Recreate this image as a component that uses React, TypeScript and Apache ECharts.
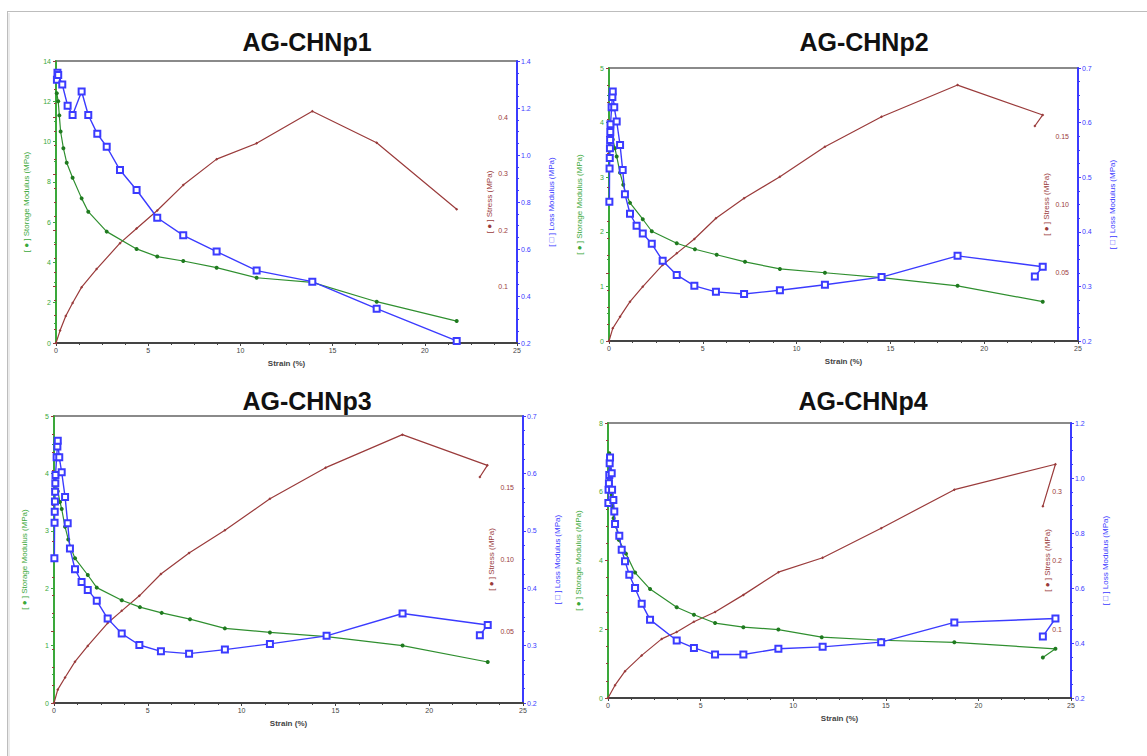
import React, { useEffect, useRef } from "react";
import * as echarts from "echarts";

// ---------- titles ----------
const titles = ["AG-CHNp1", "AG-CHNp2", "AG-CHNp3", "AG-CHNp4"];
const xName = "Strain (%)";
const storageName = "[ ● ] Storage Modulus (MPa)";
const stressName = "[ ● ] Stress (MPa)";
const lossName = "[ □ ] Loss Modulus (MPa)";

// ---------- AG-CHNp1 ----------
const p1StorageStrain = [0.04, 0.12, 0.18, 0.25, 0.4, 0.58, 0.9, 1.39, 1.75, 2.75, 4.37, 5.49, 6.9, 8.71, 10.88, 13.9, 17.39, 21.73];
const p1Storage = [12.4, 12.0, 11.3, 10.5, 9.67, 8.95, 8.2, 7.18, 6.52, 5.53, 4.67, 4.29, 4.07, 3.74, 3.24, 3.01, 2.05, 1.09];
const p1LossStrain = [0.05, 0.08, 0.12, 0.34, 0.63, 0.9, 1.39, 1.75, 2.24, 2.75, 3.47, 4.37, 5.49, 6.9, 8.71, 10.88, 13.9, 17.39, 21.73];
const p1Loss = [1.32, 1.35, 1.34, 1.3, 1.21, 1.17, 1.27, 1.17, 1.09, 1.035, 0.936, 0.851, 0.733, 0.658, 0.589, 0.508, 0.461, 0.346, 0.209];
const p1StressStrain = [0, 0.22, 0.53, 0.9, 1.39, 2.2, 3.47, 4.37, 5.49, 6.9, 8.71, 10.88, 13.9, 17.39, 21.73];
const p1Stress = [0, 0.022, 0.048, 0.071, 0.099, 0.131, 0.177, 0.203, 0.235, 0.28, 0.326, 0.354, 0.411, 0.355, 0.237];

// ---------- AG-CHNp2 ----------
const p2StorageStrain = [0.09, 0.12, 0.2, 0.32, 0.41, 0.59, 0.76, 0.9, 1.12, 1.8, 2.28, 3.61, 4.58, 5.74, 7.25, 9.11, 11.51, 14.53, 18.58, 23.12];
const p2Storage = [3.96, 3.8, 3.69, 3.53, 3.38, 3.08, 2.86, 2.7, 2.53, 2.23, 2.01, 1.79, 1.68, 1.58, 1.45, 1.32, 1.25, 1.16, 1.01, 0.72];
const p2LossStrain = [0.02, 0.03, 0.04, 0.05, 0.06, 0.07, 0.08, 0.14, 0.18, 0.2, 0.28, 0.41, 0.59, 0.73, 0.85, 1.12, 1.47, 1.8, 2.28, 2.86, 3.61, 4.55, 5.7, 7.2, 9.11, 11.51, 14.53, 18.58, 23.12, 22.7];
const p2Loss = [0.455, 0.516, 0.535, 0.553, 0.568, 0.583, 0.597, 0.628, 0.647, 0.657, 0.628, 0.602, 0.559, 0.513, 0.469, 0.433, 0.411, 0.397, 0.378, 0.347, 0.321, 0.301, 0.29, 0.286, 0.293, 0.303, 0.317, 0.356, 0.336, 0.318];
const p2StressStrain = [0, 0.2, 0.59, 1.12, 1.8, 2.86, 3.61, 4.55, 5.7, 7.2, 9.11, 11.51, 14.53, 18.58, 23.12, 22.7];
const p2Stress = [0, 0.0093, 0.0178, 0.0288, 0.0398, 0.0557, 0.0642, 0.0747, 0.0899, 0.1045, 0.1204, 0.1423, 0.1643, 0.1875, 0.1656, 0.1575];

// ---------- AG-CHNp3 (same curves) ----------
const p3StorageStrain = [0.09, 0.12, 0.2, 0.32, 0.41, 0.59, 0.76, 0.9, 1.12, 1.8, 2.28, 3.61, 4.58, 5.74, 7.25, 9.11, 11.51, 14.53, 18.58, 23.12];
const p3Storage = [3.97, 3.8, 3.69, 3.5, 3.38, 3.07, 2.85, 2.7, 2.52, 2.23, 2.01, 1.79, 1.67, 1.57, 1.46, 1.3, 1.23, 1.155, 1.0, 0.714];
const p3LossStrain = [0.02, 0.03, 0.04, 0.05, 0.06, 0.07, 0.08, 0.14, 0.18, 0.2, 0.28, 0.41, 0.59, 0.73, 0.85, 1.12, 1.47, 1.8, 2.28, 2.86, 3.61, 4.55, 5.7, 7.2, 9.11, 11.51, 14.53, 18.58, 23.12, 22.7];
const p3Loss = [0.452, 0.514, 0.533, 0.551, 0.568, 0.583, 0.597, 0.628, 0.647, 0.657, 0.628, 0.602, 0.559, 0.513, 0.469, 0.433, 0.411, 0.397, 0.378, 0.347, 0.321, 0.301, 0.29, 0.286, 0.293, 0.303, 0.317, 0.356, 0.336, 0.318];
const p3StressStrain = [0, 0.2, 0.59, 1.12, 1.8, 2.86, 3.61, 4.55, 5.7, 7.2, 9.11, 11.51, 14.48, 18.57, 23.1, 22.7];
const p3Stress = [0, 0.0093, 0.0178, 0.0288, 0.0398, 0.0557, 0.0642, 0.0747, 0.0899, 0.1045, 0.1204, 0.1423, 0.164, 0.187, 0.1656, 0.1575];

// ---------- AG-CHNp4 ----------
const p4StorageStrain = [0.07, 0.09, 0.11, 0.14, 0.2, 0.23, 0.3, 0.44, 0.58, 0.97, 1.46, 2.27, 3.71, 4.64, 5.78, 7.31, 9.2, 11.54, 14.75, 18.7, 24.16, 23.48];
const p4Storage = [7.12, 6.78, 6.63, 6.44, 5.91, 5.57, 5.23, 4.99, 4.6, 4.2, 3.65, 3.17, 2.64, 2.42, 2.18, 2.06, 1.99, 1.77, 1.68, 1.62, 1.43, 1.18];
const p4LossStrain = [0.02, 0.03, 0.05, 0.07, 0.09, 0.11, 0.2, 0.22, 0.29, 0.34, 0.38, 0.61, 0.74, 0.92, 1.15, 1.46, 1.82, 2.27, 3.71, 4.64, 5.78, 7.31, 9.2, 11.59, 14.75, 18.7, 24.16, 23.48];
const p4Loss = [0.909, 0.957, 0.981, 1.011, 1.054, 1.075, 1.017, 0.957, 0.92, 0.878, 0.833, 0.79, 0.739, 0.697, 0.648, 0.6, 0.543, 0.485, 0.409, 0.382, 0.358, 0.358, 0.379, 0.386, 0.403, 0.475, 0.489, 0.424];
const p4StressStrain = [0, 0.38, 0.92, 1.82, 2.9, 3.71, 4.64, 5.78, 7.31, 9.2, 11.59, 14.75, 18.7, 24.16, 23.48];
const p4Stress = [0, 0.0186, 0.039, 0.062, 0.086, 0.096, 0.111, 0.125, 0.15, 0.183, 0.204, 0.247, 0.303, 0.34, 0.279];

// ---------- axis ranges (per panel) ----------
const strainRange = [0, 25, 5];
const storageRanges = [[0, 14, 2], [0, 5, 1], [0, 5, 1], [0, 8, 2]];
const stressRanges = [[0, 0.5, 0.1], [0, 0.2, 0.05], [0, 0.2, 0.05], [0, 0.4, 0.1]];
const lossRanges = [[0.2, 1.4, 0.2], [0.2, 0.7, 0.1], [0.2, 0.7, 0.1], [0.2, 1.2, 0.2]];
const stressDecimals = [1, 2, 2, 1];

const panels = [
  { storage: [p1StorageStrain, p1Storage], loss: [p1LossStrain, p1Loss], stress: [p1StressStrain, p1Stress] },
  { storage: [p2StorageStrain, p2Storage], loss: [p2LossStrain, p2Loss], stress: [p2StressStrain, p2Stress] },
  { storage: [p3StorageStrain, p3Storage], loss: [p3LossStrain, p3Loss], stress: [p3StressStrain, p3Stress] },
  { storage: [p4StorageStrain, p4Storage], loss: [p4LossStrain, p4Loss], stress: [p4StressStrain, p4Stress] },
];

// ---------- layout / style ----------
const grids = [
  { left: 56, top: 61, width: 461, height: 282 },
  { left: 609, top: 68, width: 469, height: 273 },
  { left: 54, top: 416, width: 469, height: 287 },
  { left: 608, top: 423, width: 463, height: 275 },
];
const titlePos = [
  { x: 302, y: 24 },
  { x: 859, y: 24 },
  { x: 302, y: 383 },
  { x: 858, y: 383 },
];
const stressNameGap = [-32, -36, -36, -28];
const GREEN = "#2f8f2f";
const GREEN_AX = "#3aa83a";
const BROWN = "#9a3b3b";
const BLUE = "#3b3bff";
const FONT = "Arial, 'Liberation Sans', sans-serif";

const pairs = (xs: number[], ys: number[]) => xs.map((x, i) => [x, ys[i]]);

function buildOption() {
  const grid: any[] = [];
  const xAxis: any[] = [];
  const yAxis: any[] = [];
  const series: any[] = [];
  const title: any[] = [];

  panels.forEach((p, i) => {
    grid.push({
      ...grids[i],
      show: true,
      borderColor: "#8a8a8a",
      borderWidth: 2,
      backgroundColor: "transparent",
    });
    title.push({
      text: titles[i],
      left: titlePos[i].x,
      top: titlePos[i].y,
      textAlign: "center",
      textStyle: { fontFamily: FONT, fontSize: 25, fontWeight: "bold", color: "#111" },
    });
    xAxis.push({
      type: "value",
      gridIndex: i,
      min: strainRange[0],
      max: strainRange[1],
      interval: strainRange[2],
      name: xName,
      nameLocation: "middle",
      nameGap: 16,
      nameMoveOverlap: false,
      nameTextStyle: { fontFamily: FONT, fontSize: 8, color: "#444", fontWeight: "bold" },
      axisLine: { show: true, lineStyle: { color: "#444", width: 2 } },
      axisTick: { show: true, length: 3, lineStyle: { color: "#444" } },
      minorTick: { show: true, splitNumber: 4, length: 2, lineStyle: { color: "#444" } },
      axisLabel: { fontFamily: FONT, fontSize: 7, color: "#444", margin: 4 },
      splitLine: { show: false },
    });
    const sr = storageRanges[i];
    yAxis.push({
      type: "value",
      gridIndex: i,
      position: "left",
      min: sr[0],
      max: sr[1],
      interval: sr[2],
      name: storageName,
      nameLocation: "middle",
      nameGap: 26,
      nameRotate: 90,
      nameMoveOverlap: false,
      nameTextStyle: { fontFamily: FONT, fontSize: 8, color: GREEN_AX },
      axisLine: { show: true, onZero: false, lineStyle: { color: GREEN_AX, width: 2 } },
      axisTick: { show: true, length: 3, lineStyle: { color: GREEN_AX } },
      minorTick: { show: true, splitNumber: 2, length: 2, lineStyle: { color: GREEN_AX } },
      axisLabel: { fontFamily: FONT, fontSize: 7, color: GREEN_AX, margin: 5 },
      splitLine: { show: false },
    });
    const st = stressRanges[i];
    const dec = stressDecimals[i];
    yAxis.push({
      type: "value",
      gridIndex: i,
      position: "right",
      min: st[0],
      max: st[1],
      interval: st[2],
      name: stressName,
      nameLocation: "middle",
      nameGap: stressNameGap[i],
      nameRotate: 90,
      nameMoveOverlap: false,
      nameTextStyle: { fontFamily: FONT, fontSize: 8, color: BROWN },
      axisLine: { show: false },
      axisTick: { show: true, inside: true, length: 3, lineStyle: { color: BROWN } },
      minorTick: { show: true, splitNumber: 4, length: 2, lineStyle: { color: BROWN } },
      axisLabel: {
        inside: true,
        fontFamily: FONT,
        fontSize: 7,
        color: BROWN,
        margin: 9,
        showMinLabel: false,
        showMaxLabel: false,
        formatter: (v: number) => v.toFixed(dec),
      },
      splitLine: { show: false },
    });
    const ls = lossRanges[i];
    yAxis.push({
      type: "value",
      gridIndex: i,
      position: "right",
      min: ls[0],
      max: ls[1],
      interval: ls[2],
      name: lossName,
      nameLocation: "middle",
      nameGap: 30,
      nameRotate: 90,
      nameMoveOverlap: false,
      nameTextStyle: { fontFamily: FONT, fontSize: 8, color: BLUE },
      axisLine: { show: true, onZero: false, lineStyle: { color: BLUE, width: 2 } },
      axisTick: { show: true, length: 3, lineStyle: { color: BLUE } },
      minorTick: { show: true, splitNumber: 4, length: 2, lineStyle: { color: BLUE } },
      axisLabel: {
        fontFamily: FONT,
        fontSize: 7,
        color: BLUE,
        margin: 4,
        formatter: (v: number) => v.toFixed(1),
      },
      splitLine: { show: false },
    });

    series.push({
      type: "line",
      name: "Stress",
      xAxisIndex: i,
      yAxisIndex: 3 * i + 1,
      data: pairs(p.stress[0], p.stress[1]),
      symbol: "diamond",
      symbolSize: 3,
      itemStyle: { color: BROWN },
      lineStyle: { color: BROWN, width: 1.2 },
      z: 2,
    });
    series.push({
      type: "line",
      name: "Storage Modulus",
      xAxisIndex: i,
      yAxisIndex: 3 * i,
      data: pairs(p.storage[0], p.storage[1]),
      symbol: "circle",
      symbolSize: 4,
      itemStyle: { color: "#1f7a1f" },
      lineStyle: { color: GREEN, width: 1.2 },
      z: 3,
    });
    series.push({
      type: "line",
      name: "Loss Modulus",
      xAxisIndex: i,
      yAxisIndex: 3 * i + 2,
      data: pairs(p.loss[0], p.loss[1]),
      symbol: "emptyRect",
      symbolSize: 6,
      itemStyle: { color: BLUE, borderWidth: 1.2 },
      lineStyle: { color: BLUE, width: 1.4 },
      z: 4,
    });
  });

  return {
    animation: false,
    backgroundColor: "#ffffff",
    title,
    grid,
    xAxis,
    yAxis,
    series,
    graphic: [
      { type: "line", shape: { x1: 7, y1: 11.5, x2: 1147, y2: 11.5 }, style: { stroke: "#bdbdbd", lineWidth: 1 } },
      { type: "line", shape: { x1: 7.5, y1: 11, x2: 7.5, y2: 756 }, style: { stroke: "#bdbdbd", lineWidth: 1 } },
      { type: "line", shape: { x1: 9, y1: 13, x2: 9, y2: 756 }, style: { stroke: "#ececec", lineWidth: 2 } },
    ],
  };
}

export default function App() {
  const ref = useRef<HTMLDivElement>(null);
  useEffect(() => {
    if (!ref.current) return;
    const chart = echarts.init(ref.current, null, { renderer: "svg" });
    chart.setOption(buildOption() as any);
    return () => chart.dispose();
  }, []);
  return (
    <div
      ref={ref}
      style={{ position: "absolute", left: 0, top: 0, width: 1147, height: 756, background: "#fff" }}
    />
  );
}
